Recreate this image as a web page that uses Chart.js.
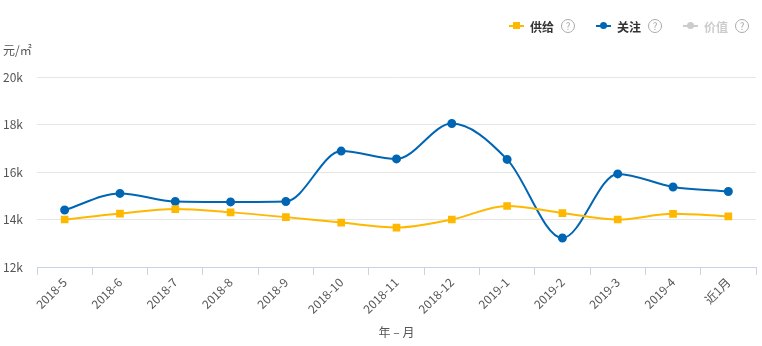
<!DOCTYPE html>
<html><head><meta charset="utf-8">
<script src="https://cdn.jsdelivr.net/npm/chart.js@4/dist/chart.umd.min.js"></script>
<style>
html,body{margin:0;padding:0;background:#fff;}
#wrap{position:relative;width:762px;height:346px;font-family:"Noto Sans CJK SC","Microsoft YaHei",sans-serif;}
canvas{position:absolute;left:0;top:0;}
.lg{position:absolute;top:17px;font-size:12px;color:#333;display:flex;align-items:center;height:18px;font-weight:bold;}
.lg .sym{position:relative;width:15px;height:2px;margin-right:6px;}
.lg .sym i{position:absolute;left:4px;top:-3px;width:7px;height:7px;}
.lg .q{display:inline-block;width:12px;height:12px;border:1px solid #aaa;border-radius:50%;color:#aaa;font-size:10px;line-height:12px;text-align:center;margin-left:7px;font-weight:normal;}
#unit{position:absolute;left:3px;top:41px;font-size:12px;color:#555;}
</style></head>
<body><div id="wrap">
<canvas id="c" width="762" height="346"></canvas>
<div class="lg" style="left:509px;"><span class="sym" style="background:#ffb800"><i style="background:#ffb800"></i></span><span>供给</span><span class="q">?</span></div>
<div class="lg" style="left:596px;"><span class="sym" style="background:#0066b3"><i style="background:#0066b3;border-radius:50%"></i></span><span>关注</span><span class="q">?</span></div>
<div class="lg" style="left:683px;color:#ccc"><span class="sym" style="background:#ccc"><i style="background:#ccc;border-radius:50%"></i></span><span>价值</span><span class="q">?</span></div>
<div id="unit">元/㎡</div>
</div>
<script>
const categories = ["2018-5","2018-6","2018-7","2018-8","2018-9","2018-10","2018-11","2018-12","2019-1","2019-2","2019-3","2019-4","近1月"];
const supply = [14000,14250,14440,14300,14100,13870,13660,14000,14570,14270,14000,14240,14130];
const attention = [14400,15100,14760,14740,14760,16880,16550,18040,16530,13220,15920,15370,15180];
const yTicks = [12000,14000,16000,18000,20000];
const fontFam = '"Noto Sans CJK SC","Microsoft YaHei",sans-serif';

new Chart(document.getElementById('c'), {
  type: 'line',
  data: {
    labels: categories,
    datasets: [
      {label:'供给', data: supply, borderColor:'#ffb800', backgroundColor:'#ffb800', pointStyle:'rect', pointRadius:4, pointHoverRadius:4, borderWidth:2, cubicInterpolationMode:'monotone', fill:false},
      {label:'关注', data: attention, borderColor:'#0066b3', backgroundColor:'#0066b3', pointStyle:'circle', pointRadius:3.5, pointHoverRadius:3.5, borderWidth:2, cubicInterpolationMode:'monotone', fill:false}
    ]
  },
  options: {
    responsive:false, animation:false, devicePixelRatio:1,
    layout:{padding:{top:77,left:3,right:5,bottom:0}},
    plugins:{legend:{display:false}, tooltip:{enabled:false}},
    scales:{
      x:{
        offset:true,
        grid:{display:true, drawOnChartArea:false, color:'#c8d4e6', tickLength:8, offset:true},
        border:{display:true, color:'#c8d4e6', width:1},
        ticks:{minRotation:45, maxRotation:45, color:'#555', font:{size:12, family:fontFam}, padding:0},
        title:{display:true, text:'年 – 月', color:'#555', font:{size:12, family:fontFam}, padding:{top:2,bottom:6}},
        afterFit(s){ s.height = 79; }
      },
      y:{
        min:12000, max:20000,
        afterBuildTicks(s){ s.ticks = yTicks.map(v=>({value:v})); },
        grid:{color:'#e6e6e6', drawTicks:false},
        border:{display:false},
        ticks:{color:'#555', font:{size:12, family:fontFam}, crossAlign:'far', padding:8,
          callback:v=>(v/1000)+'k'},
        afterFit(s){ s.width = 34; }
      }
    }
  }
});
</script>
</body></html>
